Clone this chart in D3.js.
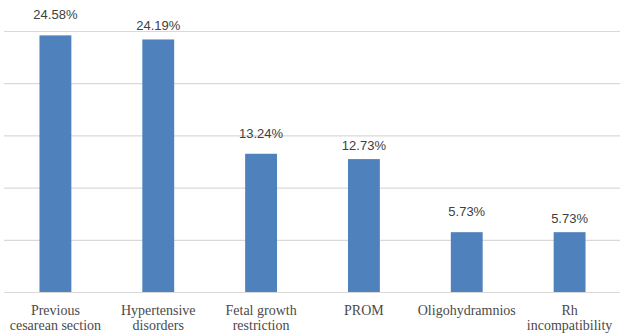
<!DOCTYPE html>
<html>
<head>
<meta charset="utf-8">
<script src="https://cdn.jsdelivr.net/npm/d3@7"></script>
<style>
  body { margin: 0; background: #fff; }
  svg { display: block; }
</style>
</head>
<body>
<svg id="chart"></svg>
<script>
// chart data
const categories = [
  ["Previous", "cesarean section"],
  ["Hypertensive", "disorders"],
  ["Fetal growth", "restriction"],
  ["PROM"],
  ["Oligohydramnios"],
  ["Rh", "incompatibility"]
];
const values = [24.58, 24.19, 13.24, 12.73, 5.73, 5.73];
const valueLabels = ["24.58%", "24.19%", "13.24%", "12.73%", "5.73%", "5.73%"];
const yTicks = [0, 5, 10, 15, 20, 25];

const width = 624, height = 336;
const svg = d3.select("#chart").attr("width", width).attr("height", height);

// scales
const x = d3.scaleBand()
    .domain(d3.range(values.length))
    .range([4, 621])
    .paddingInner(0.69)
    .paddingOuter(0.345);

const y = d3.scaleLinear()
    .domain([0, 25])
    .range([292, 31]);

// gridlines
svg.append("g")
    .attr("transform", "translate(4,0)")
    .call(d3.axisLeft(y).tickValues(yTicks).tickSize(-616).tickFormat(""))
    .call(g => g.select(".domain").remove())
    .call(g => g.selectAll(".tick line").attr("stroke", "#d9d9d9").attr("stroke-width", 1.2));

// bars
svg.selectAll(".bar")
    .data(values)
    .enter()
    .append("rect")
    .attr("class", "bar")
    .attr("x", (d, i) => x(i))
    .attr("y", d => y(d))
    .attr("width", x.bandwidth())
    .attr("height", d => y(0) - y(d))
    .attr("fill", "#4f81bd");

// value labels (staggered like the original)
svg.selectAll(".val")
    .data(values)
    .enter()
    .append("text")
    .attr("class", "val")
    .attr("x", (d, i) => x(i) + x.bandwidth() / 2)
    .attr("y", (d, i) => y(d) - (i % 2 === 0 ? 16 : 9))
    .attr("text-anchor", "middle")
    .attr("font-family", "Liberation Sans, Arial, sans-serif")
    .attr("font-size", 13)
    .attr("fill", "#404040")
    .text((d, i) => valueLabels[i]);

// category labels
const cat = svg.selectAll(".cat")
    .data(categories)
    .enter()
    .append("text")
    .attr("class", "cat")
    .attr("x", (d, i) => x(i) + x.bandwidth() / 2)
    .attr("y", 315)
    .attr("text-anchor", "middle")
    .attr("font-family", "Liberation Serif, serif")
    .attr("font-size", 14)
    .attr("fill", "#4a4a4a");

cat.selectAll("tspan")
    .data(d => d)
    .enter()
    .append("tspan")
    .attr("x", function() { return d3.select(this.parentNode).attr("x"); })
    .attr("dy", (d, i) => i === 0 ? 0 : 15)
    .text(d => d);
</script>
</body>
</html>
